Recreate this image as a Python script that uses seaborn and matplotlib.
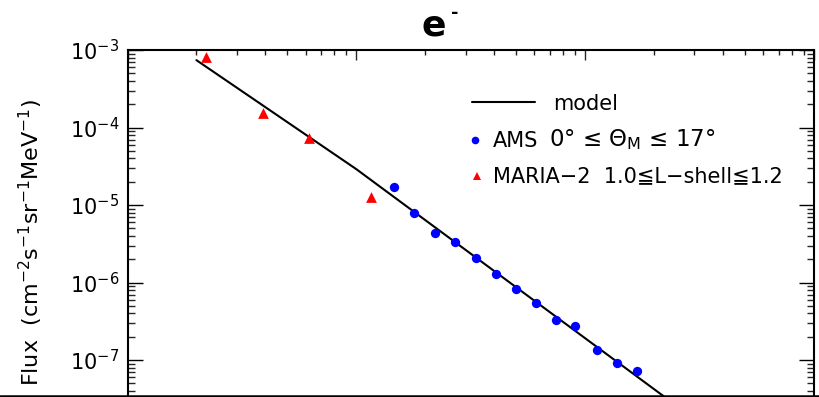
import numpy as np
import pandas as pd
import matplotlib
matplotlib.use("Agg")
import matplotlib.pyplot as plt
import seaborn as sns
from matplotlib.lines import Line2D
from matplotlib.ticker import LogLocator, LogFormatterMathtext, NullFormatter, FixedLocator

# ---- data (energy in MeV, flux in cm^-2 s^-1 sr^-1 MeV^-1) ----
model_energy = [20.0, 100.0, 3170.0]
model_flux = [7.4e-4, 2.9e-5, 1.54e-8]

ams_energy = [146.7, 179.4, 220.1, 269.3, 331.8, 407.1, 500.0, 607.5, 745.0, 906.0, 1123.0, 1373.0, 1685.0]
ams_flux = [1.72e-5, 7.96e-6, 4.31e-6, 3.30e-6, 2.05e-6, 1.30e-6, 8.32e-7, 5.39e-7, 3.28e-7, 2.77e-7, 1.33e-7, 9.06e-8, 7.21e-8]

maria_energy = [22.0, 38.9, 62.3, 115.8]
maria_flux = [8.05e-4, 1.52e-4, 7.26e-5, 1.25e-5]

y_major_ticks = [1e-7, 1e-6, 1e-5, 1e-4, 1e-3]

title_text = "e"
title_sup = "-"
ylabel_text = r"Flux  (cm$^{-2}$s$^{-1}$sr$^{-1}$MeV$^{-1}$)"
legend_model = "model"
legend_ams = "AMS"
legend_ams_cut = r"0° ≤ Θ$_{\mathrm{M}}$ ≤ 17°"
legend_maria = "MARIA−2  1.0≦L−shell≦1.2"

sns.set_theme(style="ticks")
plt.rcParams["font.family"] = ["DejaVu Sans"]
plt.rcParams["mathtext.fontset"] = "dejavusans"
plt.rcParams["axes.unicode_minus"] = True

W, H = 819, 397
def fx(px):
    return px / W
def fy(py):
    return 1 - py / H

fig = plt.figure(figsize=(W / 100, H / 100), dpi=100)
fig.patch.set_facecolor("white")

ax_left, ax_right, ax_top, ax_bottom = 127.5, 814.0, 50.0, 437.5
ax = fig.add_axes([fx(ax_left), fy(ax_bottom), (ax_right - ax_left) / W, (ax_bottom - ax_top) / H])
ax.set_facecolor("white")

model_df = pd.DataFrame({"E": model_energy, "F": model_flux})
ams_df = pd.DataFrame({"E": ams_energy, "F": ams_flux})
maria_df = pd.DataFrame({"E": maria_energy, "F": maria_flux})

sns.lineplot(data=model_df, x="E", y="F", ax=ax, color="black", linewidth=1.5, sort=False, legend=False)
sns.scatterplot(data=ams_df, x="E", y="F", ax=ax, color="#0000FF", marker="o", s=45, linewidth=0, legend=False, zorder=3)
sns.scatterplot(data=maria_df, x="E", y="F", ax=ax, color="#FF0000", marker="^", s=60, linewidth=0, legend=False, zorder=3)

ax.set_xscale("log")
ax.set_yscale("log")
ax.set_xlim(10, 1e4)
ax.set_ylim(1e-8, 1e-3)
ax.set_xlabel("")
ax.set_ylabel("")

for sp in ax.spines.values():
    sp.set_visible(True)
    sp.set_linewidth(1.5)
    sp.set_color("black")

ax.yaxis.set_major_locator(FixedLocator(y_major_ticks))
ax.yaxis.set_major_formatter(LogFormatterMathtext())
ax.yaxis.set_minor_locator(LogLocator(base=10, subs=np.arange(2, 10), numticks=20))
ax.yaxis.set_minor_formatter(NullFormatter())
ax.xaxis.set_major_locator(LogLocator(base=10, numticks=20))
ax.xaxis.set_minor_locator(LogLocator(base=10, subs=np.arange(2, 10), numticks=20))
ax.xaxis.set_minor_formatter(NullFormatter())

ax.tick_params(axis="y", which="major", direction="in", length=10.8, width=1.0,
               left=True, right=True, labelsize=15, pad=6, colors="black")
ax.tick_params(axis="y", which="minor", direction="in", length=5.0, width=1.0,
               left=True, right=True)
ax.tick_params(axis="x", which="major", direction="in", length=7.2, width=1.0,
               top=True, bottom=True, labelbottom=False, labeltop=False)
ax.tick_params(axis="x", which="minor", direction="in", length=3.6, width=1.0,
               top=True, bottom=True)
ax.grid(False)

# y label
fig.text(fx(31), fy(242), ylabel_text, rotation=90, ha="center", va="center", fontsize=16, color="black")

# title
fig.text(fx(434), fy(35), title_text, ha="center", va="baseline", fontsize=26, fontweight="bold", color="black")
fig.text(fx(454.5), fy(13), title_sup, ha="center", va="center", fontsize=13, fontweight="bold", color="black")

# legend (manual)
fig.add_artist(Line2D([fx(472), fx(535)], [fy(102), fy(102)], color="black", linewidth=1.5, transform=fig.transFigure))
fig.text(fx(553), fy(104), legend_model, ha="left", va="center", fontsize=15, color="black")
fig.add_artist(Line2D([fx(475)], [fy(140)], marker="o", markersize=5.5, color="#0000FF", markeredgewidth=0, linestyle="none", transform=fig.transFigure))
fig.text(fx(493), fy(141), legend_ams, ha="left", va="center", fontsize=15, color="black")
fig.text(fx(549), fy(140), legend_ams_cut, ha="left", va="center", fontsize=16.5, color="black")
fig.add_artist(Line2D([fx(477)], [fy(176)], marker="^", markersize=6, color="#FF0000", markeredgewidth=0, linestyle="none", transform=fig.transFigure))
fig.text(fx(493), fy(176), legend_maria, ha="left", va="center", fontsize=15, color="black")

# bottom border line
fig.add_artist(Line2D([0, 1], [fy(395.5), fy(395.5)], color="black", linewidth=1.8, transform=fig.transFigure))

fig.savefig("out.png", dpi=100, facecolor="white")
